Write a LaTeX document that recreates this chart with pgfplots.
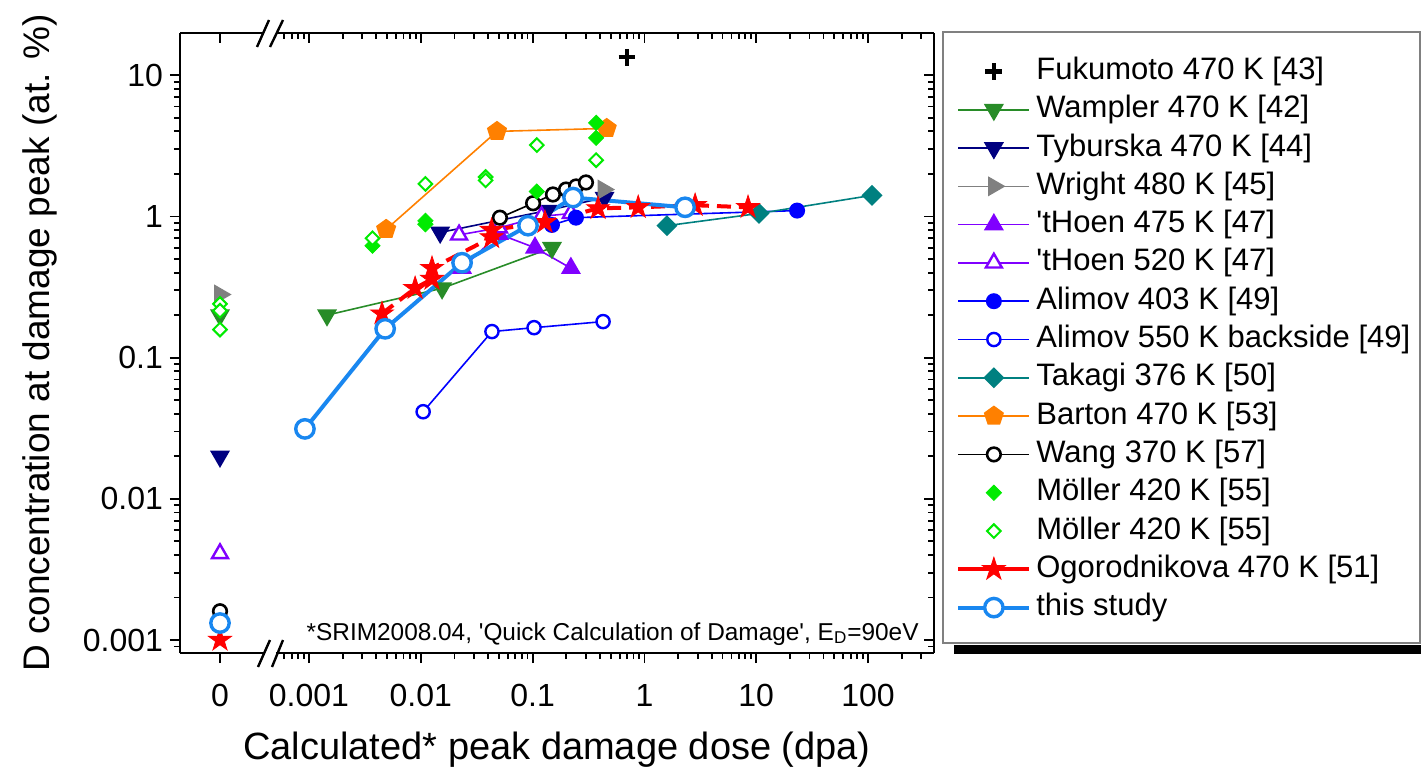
\documentclass[border=0pt]{standalone}
\usepackage{fontspec}
\setmainfont{Liberation Sans}
\usepackage{pgfplots}
\pgfplotsset{compat=1.18}
\usetikzlibrary{plotmarks}
\definecolor{cwam}{RGB}{40,140,40}
\definecolor{cnavy}{RGB}{0,0,128}
\definecolor{cgray}{RGB}{128,128,128}
\definecolor{cviol}{RGB}{128,0,255}
\definecolor{cblue}{RGB}{0,0,255}
\definecolor{cteal}{RGB}{0,128,128}
\definecolor{corange}{RGB}{255,128,0}
\definecolor{clime}{RGB}{0,235,0}
\definecolor{cred}{RGB}{255,0,0}
\definecolor{cstudy}{RGB}{25,135,240}
\pgfdeclareplotmark{fstar}{%
 \pgfpathmoveto{\pgfpointpolar{90}{\pgfplotmarksize}}%
 \pgfpathlineto{\pgfpointpolar{126}{0.382*\pgfplotmarksize}}%
 \pgfpathlineto{\pgfpointpolar{162}{\pgfplotmarksize}}%
 \pgfpathlineto{\pgfpointpolar{198}{0.382*\pgfplotmarksize}}%
 \pgfpathlineto{\pgfpointpolar{234}{\pgfplotmarksize}}%
 \pgfpathlineto{\pgfpointpolar{270}{0.382*\pgfplotmarksize}}%
 \pgfpathlineto{\pgfpointpolar{306}{\pgfplotmarksize}}%
 \pgfpathlineto{\pgfpointpolar{342}{0.382*\pgfplotmarksize}}%
 \pgfpathlineto{\pgfpointpolar{18}{\pgfplotmarksize}}%
 \pgfpathlineto{\pgfpointpolar{54}{0.382*\pgfplotmarksize}}%
 \pgfpathclose\pgfusepathqfillstroke}
\pgfplotsset{
 sfuk/.style={black, only marks, line width=2.2pt, mark=+, mark size=4.2pt, mark options={line width=2.2pt}},
 swam/.style={color=cwam, line width=0.8pt, mark=triangle*, mark size=5pt, mark options={rotate=180}},
 styb/.style={color=cnavy, line width=0.8pt, mark=triangle*, mark size=5pt, mark options={rotate=180}},
 swri/.style={color=cgray, line width=0.8pt, mark=triangle*, mark size=5pt, mark options={rotate=-90}},
 sth5/.style={color=cviol, line width=0.8pt, mark=triangle*, mark size=5pt},
 sth2/.style={color=cviol, line width=0.8pt, mark=triangle*, mark size=4.6pt, mark options={fill=white, line width=1.2pt}},
 sal4/.style={color=cblue, line width=0.8pt, mark=*, mark size=3.6pt},
 sal5/.style={color=cblue, line width=0.8pt, mark=*, mark size=3.3pt, mark options={fill=white, line width=1.2pt}},
 stak/.style={color=cteal, line width=0.8pt, mark=square*, mark size=3.3pt, mark options={rotate=45}},
 sbar/.style={color=corange, line width=0.8pt, mark=pentagon*, mark size=4.8pt},
 swan/.style={color=black, line width=0.8pt, mark=*, mark size=3.4pt, mark options={fill=white, line width=1.3pt}},
 smf/.style={color=clime, only marks, mark=square*, mark size=2.7pt, mark options={rotate=45}},
 smo/.style={color=clime, only marks, mark=square*, mark size=2.4pt, mark options={rotate=45, fill=white, line width=1pt}},
 sogo/.style={color=cred, line width=2pt, dash pattern=on 7pt off 4pt, mark=fstar, mark size=6pt, mark options={solid, line width=0.4pt}, legend image post style={solid}},
 sstu/.style={color=cstudy, line width=2pt, mark=*, mark size=4.6pt, mark options={fill=white, line width=1.7pt}},
}
\begin{document}
\begin{tikzpicture}
\path[use as bounding box] (0,0) rectangle (710.5pt,386.5pt);
% left part (x = 0)
\begin{axis}[scale only axis, height=310pt, ymode=log, ymin=8.1e-4, ymax=19.9,
  anchor=south west, at={(90pt,60pt)}, width=42pt, xmin=-1, xmax=1.1,
  major tick length=5pt, minor tick length=3pt,
  every tick/.append style={black, line width=0.9pt},
  axis line style={black, line width=1pt, -},
  /pgf/number format/assume math mode=true,
  tick label style={font=\fontsize{16}{19}\selectfont},
  xticklabel style={yshift=-7pt},
  ytick={0.001,0.01,0.1,1,10},
  minor ytick={0.0009,0.002,0.003,0.004,0.005,0.006,0.007,0.008,0.009,0.02,0.03,0.04,0.05,0.06,0.07,0.08,0.09,0.2,0.3,0.4,0.5,0.6,0.7,0.8,0.9,2,3,4,5,6,7,8,9},
  clip=false,
  axis x line*=bottom, axis y line*=left, tick align=outside,
  xtick={0}, xticklabels={0},
  yticklabels={0.001,0.01,0.1,1,10}]
\addplot[swam] coordinates {(0,0.2)};
\addplot[styb] coordinates {(0,0.02)};
\addplot[swri] coordinates {(0,0.28)};
\addplot[sth2] coordinates {(0,0.0041)};
\addplot[swan] coordinates {(0,0.0016)};
\addplot[smo] coordinates {(0,0.24) (0,0.215) (0,0.158)};
\addplot[sogo] coordinates {(0,0.001)};
\addplot[sstu] coordinates {(0,0.00132)};
\end{axis}
\begin{axis}[scale only axis, height=310pt, ymode=log, ymin=8.1e-4, ymax=19.9,
  anchor=south west, at={(90pt,60pt)}, width=42pt, xmin=-1, xmax=1.1,
  major tick length=5pt, minor tick length=3pt,
  every tick/.append style={black, line width=0.9pt},
  axis line style={black, line width=1pt, -},
  axis x line*=top, axis y line=none, tick align=inside,
  xtick={0}, xticklabels={}, ytick=\empty]
\addplot[draw=none, forget plot] coordinates {(0,1)};
\end{axis}
% right part (log)
\begin{axis}[scale only axis, height=310pt, ymode=log, ymin=8.1e-4, ymax=19.9,
  anchor=south west, at={(138pt,60pt)}, width=329pt,
  xmode=log, xmin=5.07e-4, xmax=389, xtick={0.001,0.01,0.1,1,10,100},
  minor xtick={0.0006,0.0007,0.0008,0.0009,0.002,0.003,0.004,0.005,0.006,0.007,0.008,0.009,0.02,0.03,0.04,0.05,0.06,0.07,0.08,0.09,0.2,0.3,0.4,0.5,0.6,0.7,0.8,0.9,2,3,4,5,6,7,8,9,20,30,40,50,60,70,80,90,200,300},
  major tick length=5pt, minor tick length=3pt,
  every tick/.append style={black, line width=0.9pt},
  axis line style={black, line width=1pt, -},
  /pgf/number format/assume math mode=true,
  tick label style={font=\fontsize{16}{19}\selectfont},
  xticklabel style={yshift=-7pt},
  clip=false,
  axis x line*=bottom, axis y line=none, tick align=outside,
  xticklabels={0.001,0.01,0.1,1,10,100},
  legend cell align=left,
  legend image code/.code={\draw[mark repeat=2,mark phase=2,#1] plot coordinates {(0pt,0pt) (17.75pt,0pt) (35.5pt,0pt)};},
  legend style={at={(1.0334,0.9696)}, anchor=north west, draw=none, fill=none,
    inner sep=0pt, row sep=0pt, column sep=1.5pt,
    font=\fontsize{15.5}{18}\selectfont,
    nodes={text height=11.6pt, text depth=3.55pt, inner ysep=2pt, inner xsep=1pt}}]
\addplot[sfuk] coordinates {(0.7,13.4)};
\addlegendentry{Fukumoto 470 K [43]}
\addplot[swam] coordinates {(0.00145,0.2) (0.0155,0.31) (0.149,0.6)};
\addlegendentry{Wampler 470 K [42]}
\addplot[styb] coordinates {(0.0149,0.77) (0.135,1.1) (0.44,1.36)};
\addlegendentry{Tyburska 470 K [44]}
\addplot[swri] coordinates {(0.43,1.55)};
\addlegendentry{Wright 480 K [45]}
\addplot[sth5] coordinates {(0.0234,0.43) (0.05,0.75) (0.105,0.6) (0.22,0.43)};
\addlegendentry{\textquotesingle tHoen 475 K [47]}
\addplot[sth2] coordinates {(0.022,0.74) (0.05,0.83) (0.12,1.0) (0.22,1.05)};
\addlegendentry{\textquotesingle tHoen 520 K [47]}
\addplot[sal4] coordinates {(0.149,0.87) (0.244,0.98) (23.2,1.1)};
\addlegendentry{Alimov 403 K [49]}
\addplot[sal5] coordinates {(0.0105,0.0414) (0.0433,0.153) (0.103,0.163) (0.427,0.18)};
\addlegendentry{Alimov 550 K backside [49]}
\addplot[stak] coordinates {(1.59,0.86) (10.6,1.05) (108.6,1.41)};
\addlegendentry{Takagi 376 K [50]}
\addplot[sbar] coordinates {(0.0049,0.81) (0.048,4.0) (0.46,4.2)};
\addlegendentry{Barton 470 K [53]}
\addplot[swan] coordinates {(0.051,0.98) (0.101,1.24) (0.152,1.43) (0.199,1.55) (0.245,1.63) (0.30,1.74)};
\addlegendentry{Wang 370 K [57]}
\addplot[smf] coordinates {(0.0037,0.62) (0.011,0.93) (0.011,0.88) (0.109,1.5) (0.37,4.6) (0.37,3.6)};
\addlegendentry{Möller 420 K [55]}
\addplot[smo] coordinates {(0.0037,0.70) (0.011,1.7) (0.038,1.9) (0.038,1.8) (0.109,3.2) (0.37,2.5)};
\addlegendentry{Möller 420 K [55]}
\addplot[sogo] coordinates {(0.0045,0.205) (0.0089,0.31) (0.0126,0.36) (0.0126,0.43) (0.043,0.71) (0.043,0.80) (0.129,0.91) (0.385,1.14) (0.88,1.16) (2.84,1.2) (8.45,1.16)};
\addlegendentry{Ogorodnikova 470 K [51]}
\addplot[sstu] coordinates {(0.00092,0.0313) (0.0048,0.16) (0.0234,0.47) (0.091,0.86) (0.23,1.36) (2.31,1.16)};
\addlegendentry{this study}
\end{axis}
\begin{axis}[scale only axis, height=310pt, ymode=log, ymin=8.1e-4, ymax=19.9,
  anchor=south west, at={(138pt,60pt)}, width=329pt,
  xmode=log, xmin=5.07e-4, xmax=389, xtick={0.001,0.01,0.1,1,10,100},
  minor xtick={0.0006,0.0007,0.0008,0.0009,0.002,0.003,0.004,0.005,0.006,0.007,0.008,0.009,0.02,0.03,0.04,0.05,0.06,0.07,0.08,0.09,0.2,0.3,0.4,0.5,0.6,0.7,0.8,0.9,2,3,4,5,6,7,8,9,20,30,40,50,60,70,80,90,200,300},
  ytick={0.001,0.01,0.1,1,10},
  minor ytick={0.0009,0.002,0.003,0.004,0.005,0.006,0.007,0.008,0.009,0.02,0.03,0.04,0.05,0.06,0.07,0.08,0.09,0.2,0.3,0.4,0.5,0.6,0.7,0.8,0.9,2,3,4,5,6,7,8,9},
  major tick length=5pt, minor tick length=3pt,
  every tick/.append style={black, line width=0.9pt},
  axis line style={black, line width=1pt, -},
  axis x line*=top, axis y line*=right, tick align=inside,
  xticklabels={}, yticklabels={}]
\addplot[draw=none, forget plot] coordinates {(1,1)};
\end{axis}
% axis breaks
\draw[black, line width=1.2pt] (128.5pt,363pt) -- (134.5pt,376.5pt);
\draw[black, line width=1.2pt] (135pt,363pt) -- (141.5pt,376.5pt);
\draw[black, line width=1.2pt] (129pt,53pt) -- (135pt,66.5pt);
\draw[black, line width=1.2pt] (136pt,53pt) -- (141.5pt,66.5pt);
% labels
\node[font=\fontsize{19}{22}\selectfont] at (278.5pt,11.5pt) {Calculated* peak damage dose (dpa)};
\node[rotate=90, font=\fontsize{18.5}{22}\selectfont] at (20pt,215pt) {D concentration at damage peak (at. \%)};
\node[anchor=base east, font=\fontsize{12.2}{14}\selectfont, inner sep=0pt] at (459.5pt,66.5pt) {*SRIM2008.04, \textquotesingle Quick Calculation of Damage\textquotesingle, E\textsubscript{D}=90eV};
% legend frame
\draw[gray, line width=0.6pt] (471.5pt,65pt) rectangle (710pt,370.5pt);
\fill[black] (477pt,59.5pt) rectangle (710.5pt,64pt);
\end{tikzpicture}
\end{document}
